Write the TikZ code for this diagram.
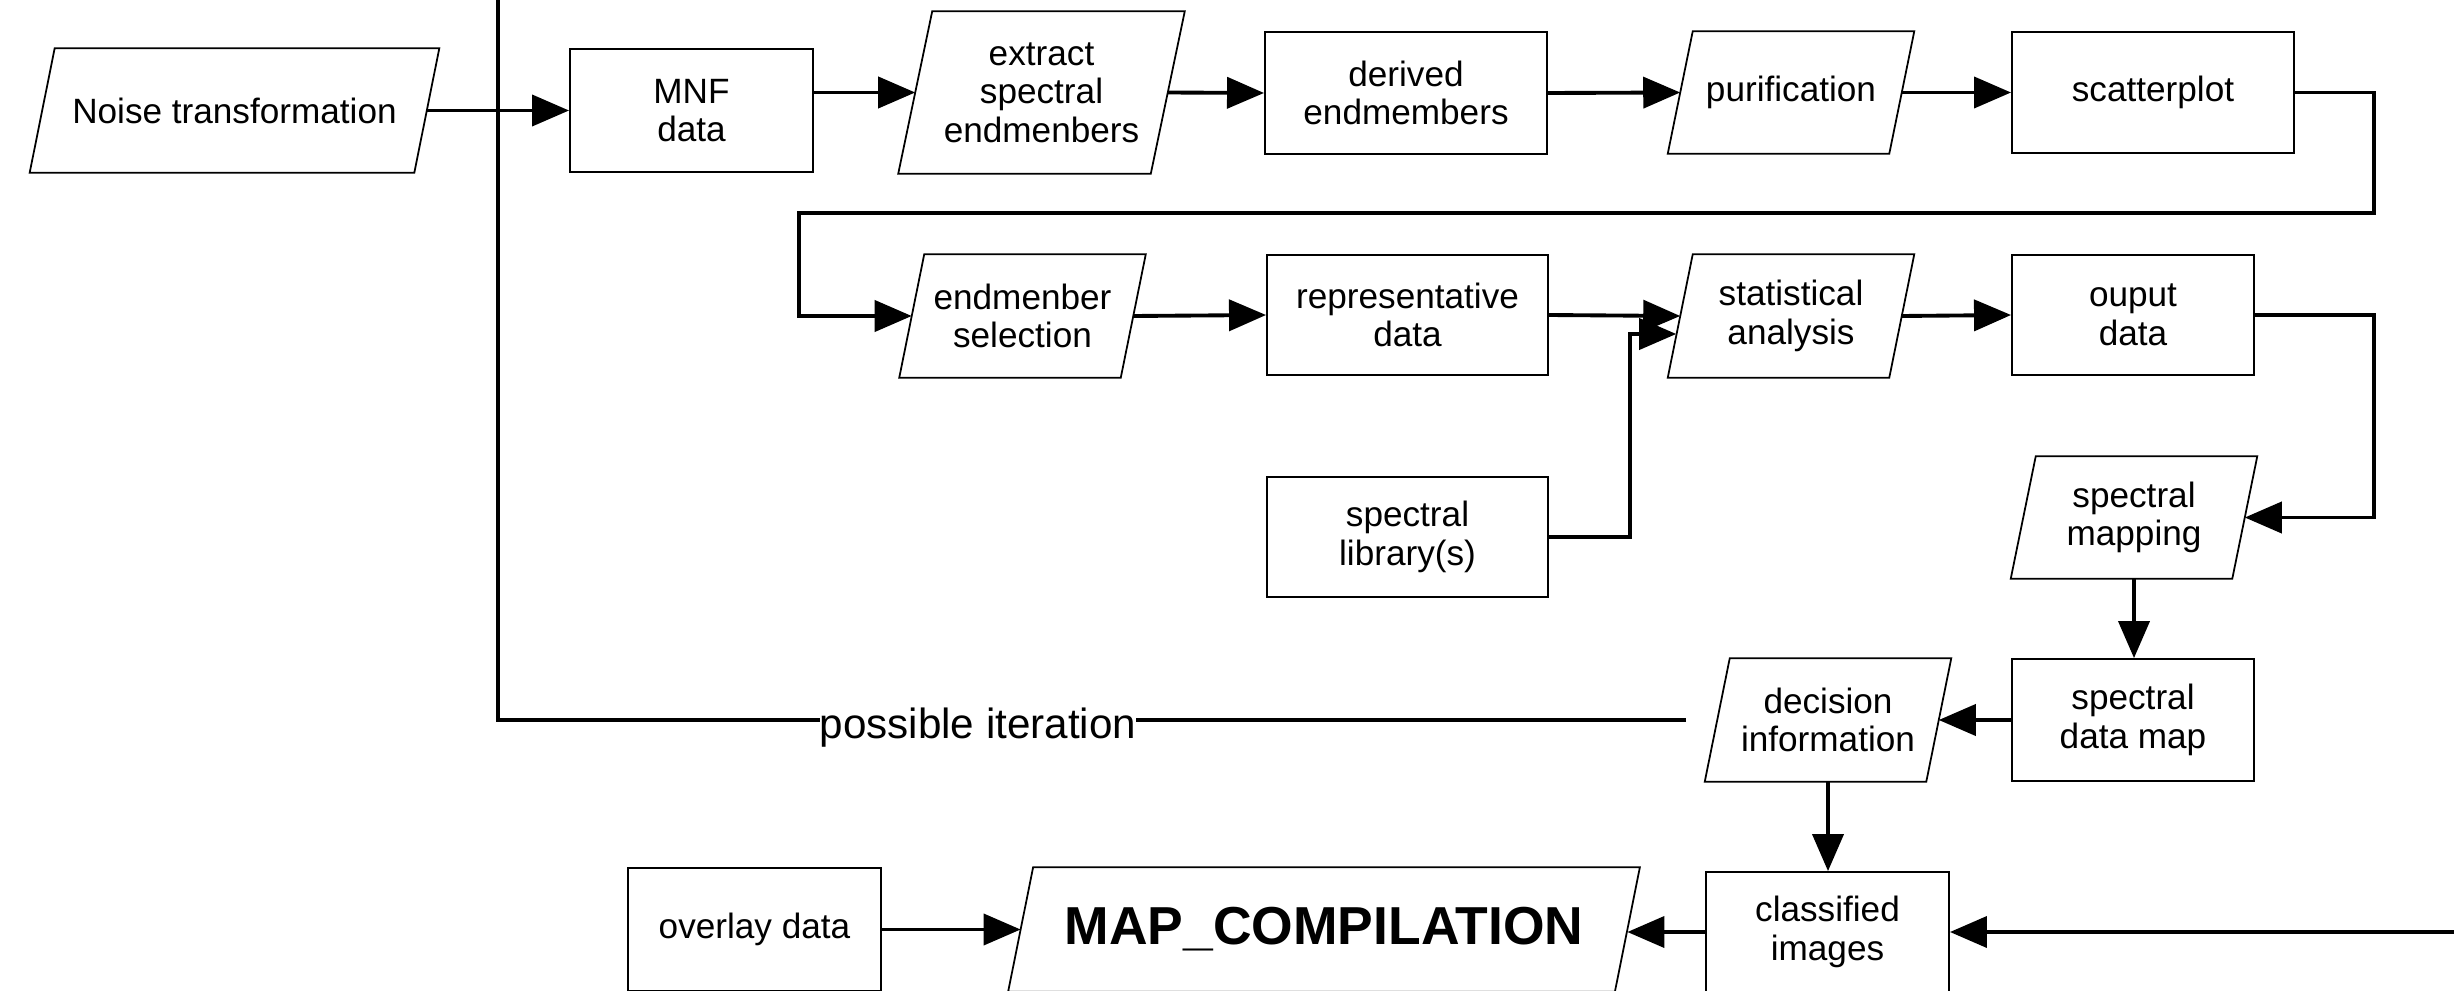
\documentclass[tikz,border=0pt]{standalone}
\usepackage{fontspec}
\setmainfont{Liberation Sans}
\usetikzlibrary{arrows.meta,calc}
\begin{document}
\begin{tikzpicture}[x=0.01cm,y=-0.01cm,
  every node/.style={font=\fontsize{10}{11}\selectfont, align=center, text=black},
  rbox/.style={draw, line width=0.5pt, inner sep=0pt},
  pgram/.style={inner sep=0pt},
  pline/.style={line width=0.5pt},
  conn/.style={line width=1.1pt, -{Triangle[length=0.37cm,width=0.31cm]}},
  plainline/.style={line width=1.1pt},
  iterlabel/.style={font=\fontsize{12}{14}\selectfont, fill=white, inner sep=0pt, anchor=base}
]
\useasboundingbox (0,0) rectangle (2454,991);

% row 1
\node[pgram, minimum width=3.83cm, minimum height=1.23cm] (noise) at (234.5,110.5) {Noise transformation};
\node[rbox, minimum width=2.43cm, minimum height=1.23cm] (mnf) at (691.5,110.5) {MNF\\data};
\node[pgram, minimum width=2.51cm, minimum height=1.61cm] (extract) at (1041.5,92.5) {extract\\spectral\\endmenbers};
\node[rbox, minimum width=2.82cm, minimum height=1.22cm] (derived) at (1406,93) {derived\\endmembers};
\node[pgram, minimum width=2.2cm, minimum height=1.21cm] (purif) at (1791,92.5) {purification};
\node[rbox, minimum width=2.82cm, minimum height=1.21cm] (scatter) at (2153,92.5) {scatterplot};

% row 2
\node[pgram, minimum width=2.2cm, minimum height=1.22cm] (endsel) at (1022.5,316) {endmenber\\selection};
\node[rbox, minimum width=2.81cm, minimum height=1.2cm] (repr) at (1407.5,315) {representative\\data};
\node[pgram, minimum width=2.2cm, minimum height=1.22cm] (stat) at (1791,316) {statistical\\analysis};
\node[rbox, minimum width=2.42cm, minimum height=1.2cm] (ouput) at (2133,315) {ouput\\data};

% lower part
\node[rbox, minimum width=2.81cm, minimum height=1.2cm] (library) at (1407.5,537) {spectral\\library(s)};
\node[pgram, minimum width=2.2cm, minimum height=1.21cm] (mapping) at (2134,517.5) {spectral\\mapping};
\node[rbox, minimum width=2.42cm, minimum height=1.22cm] (datamap) at (2133,720) {spectral\\data map};
\node[pgram, minimum width=2.2cm, minimum height=1.22cm] (decision) at (1828,720) {decision\\information};
\node[rbox, minimum width=2.43cm, minimum height=1.2cm] (classified) at (1827.5,932) {classified\\images};
\node[pgram, minimum width=6.05cm, minimum height=1.23cm, font=\fontsize{15.2}{17}\selectfont\bfseries] (mapcomp) at (1324,929.5) {MAP\_COMPILATION};
\node[rbox, minimum width=2.53cm, minimum height=1.23cm] (overlay) at (754.5,929.5) {overlay data};

% parallelogram outlines
\foreach \n/\s in {noise/25, extract/34, purif/25, endsel/25, stat/25, mapping/25, decision/25, mapcomp/25} {
  \draw[pline] ($(\n.south west)+(-\s/2,0)$) -- ($(\n.north west)+(\s/2,0)$) -- ($(\n.north east)+(\s/2,0)$) -- ($(\n.south east)+(-\s/2,0)$) -- cycle;
}

% helper coordinates
\coordinate (rx) at (2374,0);
\coordinate (ry) at (0,213);
\coordinate (lx) at (799,0);
\coordinate (top) at (498,-10);
\coordinate (rin) at (2470,932);

% connectors
\draw[conn] (noise.east) -- (mnf.west);
\draw[conn] (extract.west -| mnf.east) -- (extract.west);
\draw[conn] (extract.east) -- (derived.west);
\draw[conn] (derived.east) -- (purif.west);
\draw[conn] (purif.east) -- (scatter.west);
\draw[conn] (scatter.east) -| (rx |- ry) -| (lx |- endsel.west) -- (endsel.west);
\draw[conn] (endsel.east) -- (repr.west);
\draw[conn] (repr.east) -- (stat.west);
\draw[conn] (library.east) -| ($(stat.west)+(-50,18)$) -- ($(stat.west)+(-4,18)$);
\draw[conn] (stat.east) -- (ouput.west);
\draw[conn] (ouput.east) -| (rx |- mapping.east) -- (mapping.east);
\draw[conn] (mapping.south) -- (mapping.south |- datamap.north);
\draw[conn] (datamap.west) -- (decision.east);
\draw[plainline, shorten <=0.31cm] (decision.west) -| (top);
\node[iterlabel] (iter) at (978,738) {possible iteration};
\draw[conn] (decision.south) -- (decision.south |- classified.north);
\draw[conn] (rin) -- (classified.east);
\draw[conn] (classified.west) -- (classified.west -| mapcomp.east);
\draw[conn] (overlay.east) -- (overlay.east -| mapcomp.west);
\end{tikzpicture}
\end{document}
